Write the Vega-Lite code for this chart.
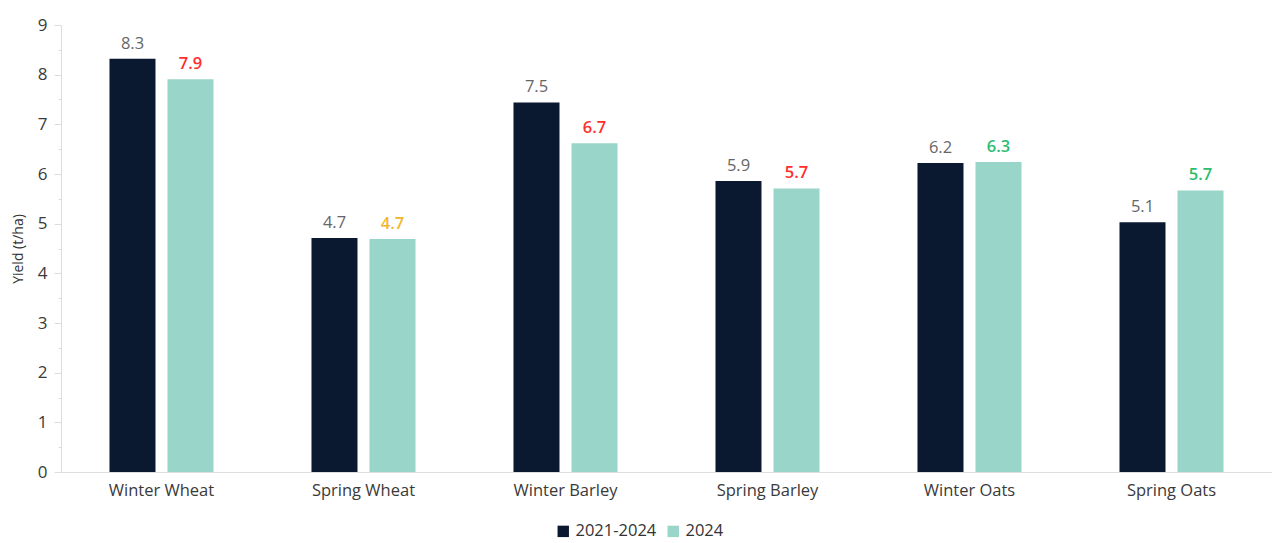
{
  "$schema": "https://vega.github.io/schema/vega-lite/v6.json",
  "width": 1211,
  "height": 447,
  "autosize": {"type": "none"},
  "padding": {"left": 61, "top": 25, "right": 0, "bottom": 71},
  "background": "white",
  "config": {
    "font": "Open Sans",
    "view": {"stroke": null}
  },
  "data": {
    "values": [
      {"crop": "Winter Wheat", "series": "2021-2024", "yield": 8.32, "label": "8.3", "trend": "baseline"},
      {"crop": "Winter Wheat", "series": "2024", "yield": 7.91, "label": "7.9", "trend": "down"},
      {"crop": "Spring Wheat", "series": "2021-2024", "yield": 4.71, "label": "4.7", "trend": "baseline"},
      {"crop": "Spring Wheat", "series": "2024", "yield": 4.69, "label": "4.7", "trend": "same"},
      {"crop": "Winter Barley", "series": "2021-2024", "yield": 7.44, "label": "7.5", "trend": "baseline"},
      {"crop": "Winter Barley", "series": "2024", "yield": 6.62, "label": "6.7", "trend": "down"},
      {"crop": "Spring Barley", "series": "2021-2024", "yield": 5.86, "label": "5.9", "trend": "baseline"},
      {"crop": "Spring Barley", "series": "2024", "yield": 5.71, "label": "5.7", "trend": "down"},
      {"crop": "Winter Oats", "series": "2021-2024", "yield": 6.22, "label": "6.2", "trend": "baseline"},
      {"crop": "Winter Oats", "series": "2024", "yield": 6.24, "label": "6.3", "trend": "up"},
      {"crop": "Spring Oats", "series": "2021-2024", "yield": 5.03, "label": "5.1", "trend": "baseline"},
      {"crop": "Spring Oats", "series": "2024", "yield": 5.67, "label": "5.7", "trend": "up"}
    ]
  },
  "encoding": {
    "x": {
      "field": "crop",
      "type": "nominal",
      "sort": null,
      "scale": {"paddingInner": 0.485, "paddingOuter": 0.24},
      "axis": {
        "title": null,
        "labelAngle": 0,
        "labelFontSize": 16.5,
        "labelColor": "#3a3a3a",
        "labelPadding": 10,
        "domainColor": "#dddddd",
        "ticks": false
      }
    },
    "xOffset": {"field": "series", "type": "nominal", "scale": {"paddingInner": 0.207}},
    "y": {
      "field": "yield",
      "type": "quantitative",
      "scale": {"domain": [0, 9], "nice": false},
      "axis": {
        "title": "Yield (t/ha)",
        "titleFontSize": 14,
        "titleFontWeight": "normal",
        "titleColor": "#333333",
        "titlePadding": 12,
        "values": [0, 0.5, 1, 1.5, 2, 2.5, 3, 3.5, 4, 4.5, 5, 5.5, 6, 6.5, 7, 7.5, 8, 8.5, 9],
        "labelExpr": "datum.value % 1 === 0 ? format(datum.value, 'd') : ''",
        "labelFontSize": 17,
        "labelColor": "#3a3a3a",
        "labelPadding": 7,
        "grid": false,
        "domainColor": "#dddddd",
        "tickColor": "#dddddd",
        "tickSize": {"condition": {"test": "datum.value % 1 !== 0", "value": 3}, "value": 7}
      }
    }
  },
  "layer": [
    {
      "mark": {"type": "bar"},
      "encoding": {
        "color": {
          "field": "series",
          "type": "nominal",
          "scale": {"domain": ["2021-2024", "2024"], "range": ["#0a1930", "#99d5c8"]},
          "legend": {
            "title": null,
            "orient": "none",
            "direction": "horizontal",
            "legendX": 494,
            "legendY": 498,
            "symbolType": "square",
            "symbolSize": 130,
            "symbolStrokeWidth": 0,
            "labelFontSize": 16.5,
            "labelColor": "#333333",
            "labelOffset": 4,
            "columnPadding": 8
          }
        }
      }
    },
    {
      "transform": [{"filter": "datum.series === '2021-2024'"}],
      "mark": {"type": "text", "baseline": "bottom", "dy": -7, "fontSize": 16.5, "color": "#666666"},
      "encoding": {
        "text": {"field": "label"}
      }
    },
    {
      "transform": [{"filter": "datum.series === '2024'"}],
      "mark": {"type": "text", "baseline": "bottom", "dy": -7, "fontSize": 16.5, "fontWeight": 600},
      "encoding": {
        "text": {"field": "label"},
        "color": {
          "field": "trend",
          "type": "nominal",
          "scale": {"domain": ["down", "same", "up"], "range": ["#ff2d2d", "#f2b62c", "#2dbd6e"]},
          "legend": null
        }
      }
    }
  ],
  "resolve": {"scale": {"color": "independent"}}
}
